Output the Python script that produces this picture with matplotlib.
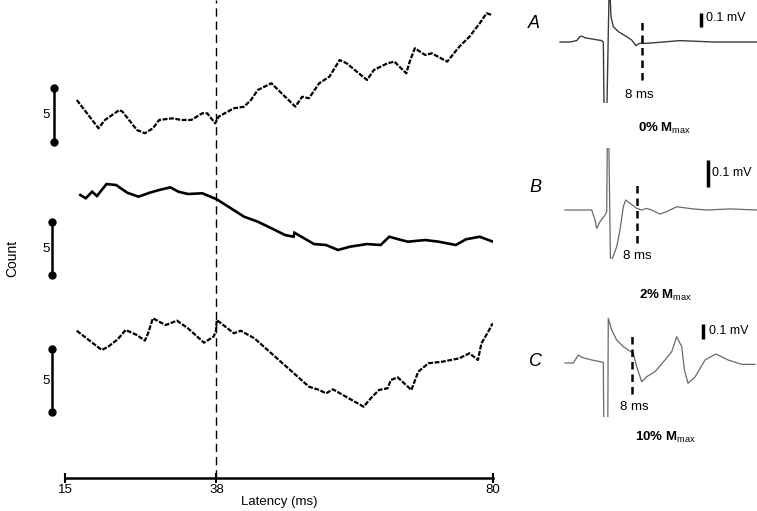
import matplotlib
matplotlib.use('Agg')
import matplotlib.pyplot as plt

# ---------------- data ----------------
lat_ticks = [15, 38, 80]
cond_latency = 38

# CUSUM traces (latency in ms, cumulative count)
top_ms = [16.79, 20.09, 21.07, 23.25, 23.73, 25.92, 27.13, 28.35, 29.31, 31.26, 32.72, 34.17, 35.86, 36.59,
          37.81, 38.31, 40.64, 42.2, 43.24, 44.27, 46.35, 46.87, 49.98, 51.02, 52.05, 53.6, 55.16, 56.71,
          57.76, 60.87, 61.91, 63.98, 65.02, 66.83, 67.35, 68.13, 69.69, 70.71, 73.05, 74.87, 76.42, 77.98,
          79.02, 79.8]
top_counts = [3.89, 1.27, 2.04, 2.96, 2.81, 1.11, 0.81, 1.27, 2.04, 2.19, 2.04, 2.04, 2.66, 2.66,
              1.73, 2.34, 3.12, 3.27, 3.89, 4.81, 5.44, 5.12, 3.27, 4.19, 4.05, 5.44, 6.05, 7.59,
              7.29, 5.74, 6.67, 7.29, 7.44, 6.36, 7.44, 8.68, 8.06, 8.21, 7.44, 8.82, 9.75, 10.99,
              11.92, 11.76]

mid_ms = [17.33, 18.16, 19.12, 19.85, 20.58, 21.3, 22.76, 24.46, 26.17, 27.85, 29.31, 31.01, 32.22, 33.68,
          35.86, 38.05, 42.2, 44.27, 46.35, 48.42, 49.71, 49.85, 52.82, 54.64, 56.46, 58.27, 60.87, 62.94,
          64.24, 66.05, 67.09, 69.69, 71.76, 74.35, 75.91, 77.98, 80.0]
mid_counts = [7.55, 7.24, 7.86, 7.45, 8.02, 8.58, 8.49, 7.76, 7.39, 7.76, 8.02, 8.27, 7.86, 7.64,
              7.71, 7.14, 5.5, 5.03, 4.41, 3.77, 3.61, 3.99, 2.92, 2.83, 2.36, 2.67, 2.92, 2.83,
              3.61, 3.3, 3.14, 3.3, 3.14, 2.83, 3.37, 3.61, 3.14]

bot_ms = [16.79, 20.58, 21.55, 23.01, 24.21, 25.92, 27.13, 27.62, 28.35, 30.28, 31.99, 33.68, 36.11, 37.56,
          37.9, 38.05, 40.64, 41.69, 43.76, 52.05, 53.6, 54.64, 55.69, 60.35, 61.65, 62.69, 63.98, 64.49,
          65.53, 67.6, 68.65, 70.2, 72.27, 74.87, 76.42, 77.71, 78.24, 79.27, 79.95]
bot_counts = [6.45, 4.92, 5.18, 5.77, 6.51, 6.11, 5.66, 6.25, 7.44, 6.9, 7.25, 6.64, 5.5, 5.98,
              6.37, 7.3, 6.25, 6.45, 5.85, 2.01, 1.75, 1.48, 1.8, 0.42, 1.21, 1.75, 1.88, 2.54,
              2.75, 1.75, 3.2, 3.87, 3.99, 4.26, 4.66, 4.13, 5.45, 6.37, 7.04]

count_bar = 5

# EMG traces (time from stimulus in ms, mV)
A_t = [-11.29, -8.94, -7.36, -6.59, -5.95, -5.41, -1.48, -1.1, -0.94, -0.24, 0.31, 0.71, 1.25, 2.42,
       4.4, 5.58, 6.59, 7.36, 8.71, 13.0, 16.94, 24.78, 35.06]
A_mv = [0.0, 0.0, 0.01, 0.04, 0.04, 0.03, 0.01, 0.0, -0.44, -0.44, 0.45, 0.18, 0.11, 0.074,
        0.038, 0.014, -0.026, -0.01, -0.01, 0.0, 0.01, 0.0, 0.0]

B_t = [-12.57, -4.94, -4.0, -3.51, -2.57, -1.14, -0.66, -0.3, 0.4, 1.0, 2.2, 3.14, 4.09, 4.77,
       6.0, 7.91, 9.34, 10.77, 12.2, 14.57, 16.49, 19.34, 24.0, 27.9, 34.57, 42.2]
B_mv = [0.0, 0.0, -0.037, -0.068, -0.043, -0.019, -0.006, 0.5, -0.178, -0.178, -0.136, -0.074, 0.012, 0.037,
        0.025, 0.006, 0.0, 0.006, 0.0, -0.015, -0.006, 0.012, 0.004, 0.0, 0.004, 0.0]

C_t = [-12.39, -9.88, -8.37, -7.34, -4.32, -0.82, -0.6, 0.5, 0.69, 1.72, 3.23, 5.23, 8.25, 9.27,
       10.79, 12.3, 14.8, 17.82, 19.85, 21.36, 22.87, 23.7, 24.77, 26.9, 29.9, 33.2, 36.9, 41.0, 45.0]
C_mv = [0.0, 0.0, 0.053, 0.038, 0.02, 0.005, -0.6, -0.6, 0.298, 0.22, 0.153, 0.109, 0.065, -0.025,
        -0.125, -0.091, -0.058, 0.02, 0.075, 0.175, 0.109, -0.047, -0.135, -0.093, 0.02, 0.06, 0.02, -0.009, -0.009]

marker_ms = 8
mv_bar = 0.1
panel_letters = ['A', 'B', 'C']
panel_labels = [r'$\mathbf{0\%\ M}_{\mathrm{max}}$', r'$\mathbf{2\%\ M}_{\mathrm{max}}$',
                r'$\mathbf{10\%\ M}_{\mathrm{max}}$']

# ---------------- style / layout ----------------
plt.rcParams['font.family'] = ['Liberation Sans', 'DejaVu Sans']
plt.rcParams['mathtext.fontset'] = 'custom'
plt.rcParams['mathtext.rm'] = 'Liberation Sans'
plt.rcParams['mathtext.bf'] = 'Liberation Sans:bold'
plt.rcParams['mathtext.it'] = 'Liberation Sans:italic'

W, H = 757, 511
fig = plt.figure(figsize=(W / 100, H / 100), dpi=100)


def box(x0, y0, x1, y1):
    return [x0 / W, 1 - y1 / H, (x1 - x0) / W, (y1 - y0) / H]


def fx(x):
    return x / W


def fy(y):
    return 1 - y / H


# main latency axis
L_X0, L_X1, L_Y0, L_Y1 = 65, 493, 0, 478
ax = fig.add_axes(box(L_X0, L_Y0, L_X1, L_Y1))
ax.set_xlim(lat_ticks[0], lat_ticks[-1])
ax.set_ylim(0, 1)
for s in ['top', 'left', 'right']:
    ax.spines[s].set_visible(False)
ax.spines['bottom'].set_linewidth(1.8)
ax.set_xticks(lat_ticks)
ax.set_xticklabels([str(t) for t in lat_ticks])
ax.tick_params(axis='x', direction='inout', length=7, width=1.5, labelsize=9.5, pad=1)
ax.set_yticks([])
ax.set_xlabel('Latency (ms)', fontsize=9.5, labelpad=0)
ax.axvline(cond_latency, color='black', lw=1.0, dashes=(6, 3.5))
ax.patch.set_alpha(0)

px_per_ms_left = (L_X1 - L_X0) / (lat_ticks[-1] - lat_ticks[0])


def px_to_lat(px):
    return lat_ticks[0] + (px - L_X0) / px_per_ms_left


traces = [
    (top_ms, top_counts, 142, 10.8, 54, 1.6, (2.2, 0.7)),
    (mid_ms, mid_counts, 275, 10.6, 52, 1.9, None),
    (bot_ms, bot_counts, 412, 12.6, 52, 1.6, (2.2, 0.7)),
]
for ms, cnt, bar_bot_px, s, bar_px, lw, dash in traces:
    tax = fig.add_axes(box(L_X0, L_Y0, L_X1, L_Y1))
    tax.set_xlim(lat_ticks[0], lat_ticks[-1])
    tax.set_ylim((bar_bot_px - L_Y1) / s, (bar_bot_px - L_Y0) / s)
    tax.axis('off')
    line, = tax.plot(ms, cnt, color='black', lw=lw, solid_joinstyle='miter')
    if dash is not None:
        line.set_dashes(dash)
    bx = px_to_lat(bar_px)
    tax.plot([bx, bx], [0, count_bar], color='black', lw=1.8, marker='o', ms=5, clip_on=False)
    tax.text(px_to_lat(46), count_bar / 2, str(count_bar), ha='center', va='center',
             fontsize=9.5, clip_on=False)

fig.text(fx(12), fy(258), 'Count', rotation=90, ha='center', va='center', fontsize=10)

# EMG panels
panels = [
    dict(bx=(555, 0, 757, 103.5), stim=608, base=42, pms=4.25, pmv=140, t=A_t, v=A_mv, c='#3c3c3c', lw=1.0,
         dash=(22, 80), barx=701, barb=27, mvtxt=(706, 18), mstxt=(639, 95), lab=(665, 128), let=(534, 24)),
    dict(bx=(555, 148, 757, 270), stim=609, base=210, pms=3.5, pmv=270, t=B_t, v=B_mv, c='#6a6a6a', lw=0.9,
         dash=(183, 243), barx=707.7, barb=187, mvtxt=(712, 173), mstxt=(637, 256), lab=(666, 295), let=(535, 188)),
    dict(bx=(555, 310, 757, 417), stim=606, base=363, pms=3.31, pmv=150, t=C_t, v=C_mv, c='#6a6a6a', lw=0.9,
         dash=(335, 394), barx=703, barb=339, mvtxt=(709, 331), mstxt=(634, 407), lab=(665, 437), let=(535, 362)),
]
for p, letter, lab in zip(panels, panel_letters, panel_labels):
    x0, y0, x1, y1 = p['bx']
    a = fig.add_axes(box(x0, y0, x1, y1))
    a.set_xlim((x0 - p['stim']) / p['pms'], (x1 - p['stim']) / p['pms'])
    a.set_ylim((p['base'] - y1) / p['pmv'], (p['base'] - y0) / p['pmv'])
    a.axis('off')
    a.plot(p['t'], p['v'], color=p['c'], lw=p['lw'])
    dy0, dy1 = p['dash']
    a.plot([marker_ms, marker_ms], [(p['base'] - dy1) / p['pmv'], (p['base'] - dy0) / p['pmv']],
           color='black', lw=1.8, dashes=(3, 2), clip_on=False)
    tb = (p['barx'] - p['stim']) / p['pms']
    vb = (p['base'] - p['barb']) / p['pmv']
    a.plot([tb, tb], [vb, vb + mv_bar], color='black', lw=2.5, clip_on=False, solid_capstyle='butt')
    fig.text(fx(p['mvtxt'][0]), fy(p['mvtxt'][1]), f'{mv_bar} mV', ha='left', va='center', fontsize=9)
    fig.text(fx(p['mstxt'][0]), fy(p['mstxt'][1]), f'{marker_ms} ms', ha='center', va='center', fontsize=9.5)
    fig.text(fx(p['lab'][0]), fy(p['lab'][1]), lab, ha='center', va='center', fontsize=9.5)
    fig.text(fx(p['let'][0]), fy(p['let'][1]), letter, ha='center', va='center', fontsize=13, style='italic')

fig.savefig('out.png', dpi=100)
